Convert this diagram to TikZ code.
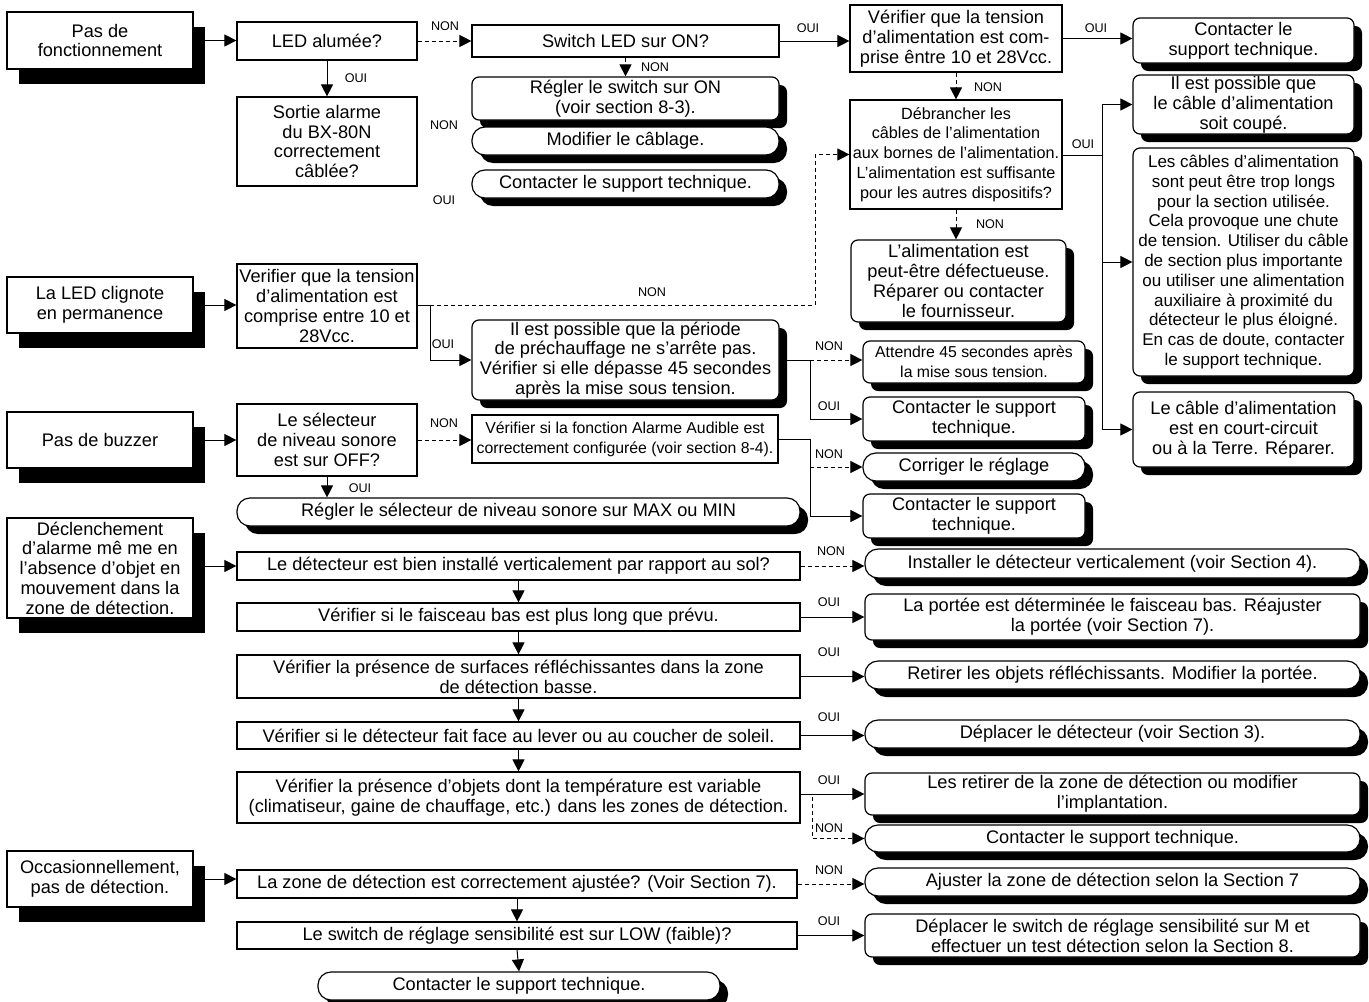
\documentclass[tikz,border=0pt]{standalone}
\usepackage{fontspec}
\setmainfont{Liberation Sans}
\usetikzlibrary{arrows.meta,shadows,calc}
\newcommand{\fm}{\fontsize{9.1}{9.9}\selectfont}
\newcommand{\fmn}{\fontsize{8.5}{9.9}\selectfont}
\newcommand{\fmd}{\fontsize{8.1}{9.9}\selectfont}
\newcommand{\fsm}{\fontsize{7.9}{9.9}\selectfont}
\newcommand{\fl}{\fontsize{6.3}{7}\selectfont}
\begin{document}
\begin{tikzpicture}[x=0.5pt,y=-0.5pt,
 box/.style n args={4}{at={({(#1+#3)/2},{(#2+#4)/2})},minimum width={(#3-#1)*0.5pt},minimum height={(#4-#2)*0.5pt}},
 sq/.style={draw,fill=white,line width=0.6pt,inner sep=0pt,align=center,font=\fm},
 startbox/.style={sq,drop shadow={shadow xshift=6pt,shadow yshift=-7.5pt,fill=black,opacity=1}},
 rnd/.style={sq,rounded corners=3.5pt,drop shadow={shadow xshift=4pt,shadow yshift=-4pt,fill=black,opacity=1}},
 pill/.style={sq,rounded corners=6.5pt,drop shadow={shadow xshift=4pt,shadow yshift=-4pt,fill=black,opacity=1}},
 lbl/.style={font=\fl,inner sep=0pt},
 arr/.style={line width=0.5pt,-{Triangle[length=6pt,width=6pt]}},
 dsh/.style={arr,dash pattern=on 2pt off 1.5pt},
 dline/.style={line width=0.5pt,dash pattern=on 2pt off 1.5pt},
 ln/.style={line width=0.5pt}]
\fill[white] (0,0) rectangle (1369,1001);
\useasboundingbox (0,0) rectangle (1369,1001);

% start boxes
\node[startbox,box={7}{12}{193}{69}] (s1) {Pas de\\fonctionnement};
\node[startbox,box={7}{277}{193}{333}] (s2) {La LED clignote\\en permanence};
\node[startbox,box={7}{412}{193}{468}] (s3) {Pas de buzzer};
\node[startbox,box={7}{518}{193}{618}] (s4) {Déclenchement\\d'alarme mê me en\\l'absence d'objet en\\mouvement dans la\\zone de détection.};
\node[startbox,box={7}{851}{193}{907}] (s5) {Occasionnellement,\\pas de détection.};

% column 2
\node[sq,box={237}{22}{417}{60}] (led) {LED alumée?};
\node[sq,box={237}{97}{417}{186}] (sortie) {Sortie alarme\\du BX-80N\\correctement\\câblée?};
\node[sq,box={237}{264}{417}{348}] (v1) {Verifier que la tension\\d'alimentation est\\comprise entre 10 et\\28Vcc.};
\node[sq,box={237}{404}{417}{476}] (q3) {Le sélecteur\\de niveau sonore\\est sur OFF?};
\node[pill,box={237}{498}{800}{526}] (regler) {Régler le sélecteur de niveau sonore sur MAX ou MIN};

% column 3
\node[sq,box={472}{25}{779}{57}] (sw) {Switch LED sur ON?};
\node[rnd,box={472}{77}{779}{120}] (r1) {Régler le switch sur ON\\(voir section 8-3).};
\node[pill,box={472}{127}{779}{155}] (r2) {Modifier le câblage.};
\node[pill,box={472}{170}{779}{198}] (r3) {Contacter le support technique.};
\node[rnd,box={472}{320}{779}{400}] (p1) {Il est possible que la période\\de préchauffage ne s'arrête pas.\\Vérifier si elle dépasse 45 secondes\\après la mise sous tension.};
\node[sq,font=\fsm,box={472}{415}{778}{463}] (af) {Vérifier si la fonction Alarme Audible est\\correctement configurée (voir section 8-4).};

% column 4
\node[sq,box={850}{5}{1062}{72}] (vt) {Vérifier que la tension\\d'alimentation est com-\\prise êntre 10 et 28Vcc.};
\node[sq,font=\fmd,box={850}{100}{1062}{209}] (deb) {Débrancher les\\câbles de l'alimentation\\aux bornes de l'alimentation.\\L'alimentation est suffisante\\pour les autres dispositifs?};
\node[rnd,box={851}{240}{1066}{322}] (def) {L'alimentation est\\peut-être défectueuse.\\Réparer ou contacter\\le fournisseur.};
\node[rnd,font=\fsm,box={863}{341}{1085}{383}] (att) {Attendre 45 secondes après\\la mise sous tension.};
\node[rnd,box={863}{397}{1085}{441}] (c2) {Contacter le support\\technique.};
\node[pill,box={863}{453}{1085}{481}] (cor) {Corriger le réglage};
\node[rnd,box={863}{494}{1085}{538}] (c3) {Contacter le support\\technique.};

% column 5
\node[rnd,box={1133}{18}{1354}{63}] (c1) {Contacter le\\support technique.};
\node[rnd,box={1133}{75}{1354}{134}] (cp) {Il est possible que\\le câble d'alimentation\\soit coupé.};
\node[rnd,font=\fmn,box={1133}{148}{1354}{376}] (cl) {Les câbles d'alimentation\\sont peut être trop longs\\pour la section utilisée.\\Cela provoque une chute\\de tension. Utiliser du câble\\de section plus importante\\ou utiliser une alimentation\\auxiliaire à proximité du\\détecteur le plus éloigné.\\En cas de doute, contacter\\le support technique.};
\node[rnd,box={1133}{392}{1354}{467}] (cc) {Le câble d'alimentation\\est en court-circuit\\ou à la Terre. Réparer.};

% bottom chain
\node[sq,box={237}{552}{800}{580}] (d1) {Le détecteur est bien installé verticalement par rapport au sol?};
\node[sq,box={237}{603}{800}{631}] (d2) {Vérifier si le faisceau bas est plus long que prévu.};
\node[sq,box={237}{655}{800}{698}] (d3) {Vérifier la présence de surfaces réfléchissantes dans la zone\\de détection basse.};
\node[sq,box={237}{722}{800}{749}] (d4) {Vérifier si le détecteur fait face au lever ou au coucher de soleil.};
\node[sq,box={237}{772}{800}{823}] (d5) {Vérifier la présence d'objets dont la température est variable\\(climatiseur, gaine de chauffage, etc.) dans les zones de détection.};
\node[sq,box={237}{870}{797}{898}] (z1) {La zone de détection est correctement ajustée? (Voir Section 7).};
\node[sq,box={237}{922}{797}{949}] (z2) {Le switch de réglage sensibilité est sur LOW (faible)?};
\node[pill,box={318}{972}{720}{1000}] (cz) {Contacter le support technique.};

% right column
\node[pill,box={865}{549}{1360}{578}] (e1) {Installer le détecteur verticalement (voir Section 4).};
\node[rnd,box={865}{594}{1360}{640}] (e2) {La portée est déterminée le faisceau bas. Réajuster\\la portée (voir Section 7).};
\node[pill,box={865}{661}{1360}{689}] (e3) {Retirer les objets réfléchissants. Modifier la portée.};
\node[pill,box={865}{720}{1360}{748}] (e4) {Déplacer le détecteur (voir Section 3).};
\node[rnd,box={865}{773}{1360}{815}] (e5) {Les retirer de la zone de détection ou modifier\\l'implantation.};
\node[pill,box={865}{825}{1360}{852}] (e6) {Contacter le support technique.};
\node[pill,box={865}{868}{1360}{896}] (e7) {Ajuster la zone de détection selon la Section 7};
\node[rnd,box={865}{914}{1360}{957}] (e8) {Déplacer le switch de réglage sensibilité sur M et\\effectuer un test détection selon la Section 8.};

% junction coordinates
\coordinate (jd) at (1102,155);
\coordinate (jv) at (430,305);
\coordinate (kv) at (815,305);
\coordinate (jp) at (810,360);
\coordinate (ja) at (810,439);
\coordinate (jd5) at (812,797);

% connectors
\draw[arr] (s1.east) -- (s1.east -| led.west);
\draw[dsh] (led.east) -- (led.east -| sw.west);
\draw[arr] (sw.east) -- (sw.east -| vt.west);
\draw[arr] (vt.east) -- (vt.east -| c1.west);
\draw[arr] (led.south) -- (led.south |- sortie.north);
\draw[dsh] (sw.south) -- (sw.south |- r1.north);
\draw[dsh] (vt.south) -- (vt.south |- deb.north);
\draw[dsh] (deb.south) -- (deb.south |- def.north);
\draw[ln] (deb.east |- jd) -- (jd);
\draw[arr] (jd) |- (cp.west);
\draw[arr] (jd) |- (cl.west);
\draw[arr] (jd) |- (cc.west);

\draw[arr] (s2.east) -- (s2.east -| v1.west);
\draw[ln] (v1.east |- jv) -- (jv);
\draw[arr] (jv) |- (p1.west);
\draw[dline] (jv) -- (kv);
\draw[dsh] (kv) |- (deb.west);
\draw[ln] (p1.east |- jp) -- (jp);
\draw[dsh] (jp) -- (jp -| att.west);
\draw[arr] (jp) |- (c2.west);

\draw[arr] (s3.east) -- (s3.east -| q3.west);
\draw[dsh] (q3.east) -- (q3.east -| af.west);
\draw[ln] (af.east |- ja) -- (ja);
\draw[arr] (ja) |- (c3.west);
\draw[dsh] (ja |- cor.west) -- (cor.west);
\draw[arr] (q3.south) -- (q3.south |- regler.north);

\draw[arr] (s4.east |- d1.west) -- (d1.west);
\draw[dsh] (d1.east) -- (d1.east -| e1.west);
\draw[arr] (d1.south) -- (d2.north);
\draw[arr] (d2.east) -- (d2.east -| e2.west);
\draw[arr] (d2.south) -- (d3.north);
\draw[arr] (d3.east) -- (d3.east -| e3.west);
\draw[arr] (d3.south) -- (d4.north);
\draw[arr] (d4.east) -- (d4.east -| e4.west);
\draw[arr] (d4.south) -- (d5.north);
\draw[arr] (d5.east |- e5.west) -- (e5.west);
\draw[dsh] (jd5) |- (e6.west);

\draw[arr] (s5.east) -- (s5.east -| z1.west);
\draw[dsh] (z1.east) -- (z1.east -| e7.west);
\draw[arr] (z1.south) -- (z2.north);
\draw[arr] (z2.east) -- (z2.east -| e8.west);
\draw[arr] (z2.south) -- (cz.north);

% labels
\node[lbl] (l1) at (445,26) {NON};
\node[lbl] (l2) at (808,28) {OUI};
\node[lbl] (l3) at (1096,28) {OUI};
\node[lbl] (l4) at (356,78) {OUI};
\node[lbl] (l5) at (655,67) {NON};
\node[lbl] (l6) at (988,87) {NON};
\node[lbl] (l7) at (444,125) {NON};
\node[lbl] (l8) at (444,200) {OUI};
\node[lbl] (l9) at (1083,144) {OUI};
\node[lbl] (l10) at (990,224) {NON};
\node[lbl] (l11) at (652,292) {NON};
\node[lbl] (l12) at (443,344) {OUI};
\node[lbl] (l13) at (829,346) {NON};
\node[lbl] (l14) at (829,406) {OUI};
\node[lbl] (l15) at (444,423) {NON};
\node[lbl] (l16) at (829,454) {NON};
\node[lbl] (l17) at (360,488) {OUI};
\node[lbl] (l18) at (831,551) {NON};
\node[lbl] (l19) at (829,602) {OUI};
\node[lbl] (l20) at (829,652) {OUI};
\node[lbl] (l21) at (829,717) {OUI};
\node[lbl] (l22) at (829,780) {OUI};
\node[lbl] (l23) at (829,828) {NON};
\node[lbl] (l24) at (829,870) {NON};
\node[lbl] (l25) at (829,921) {OUI};
\end{tikzpicture}
\end{document}
